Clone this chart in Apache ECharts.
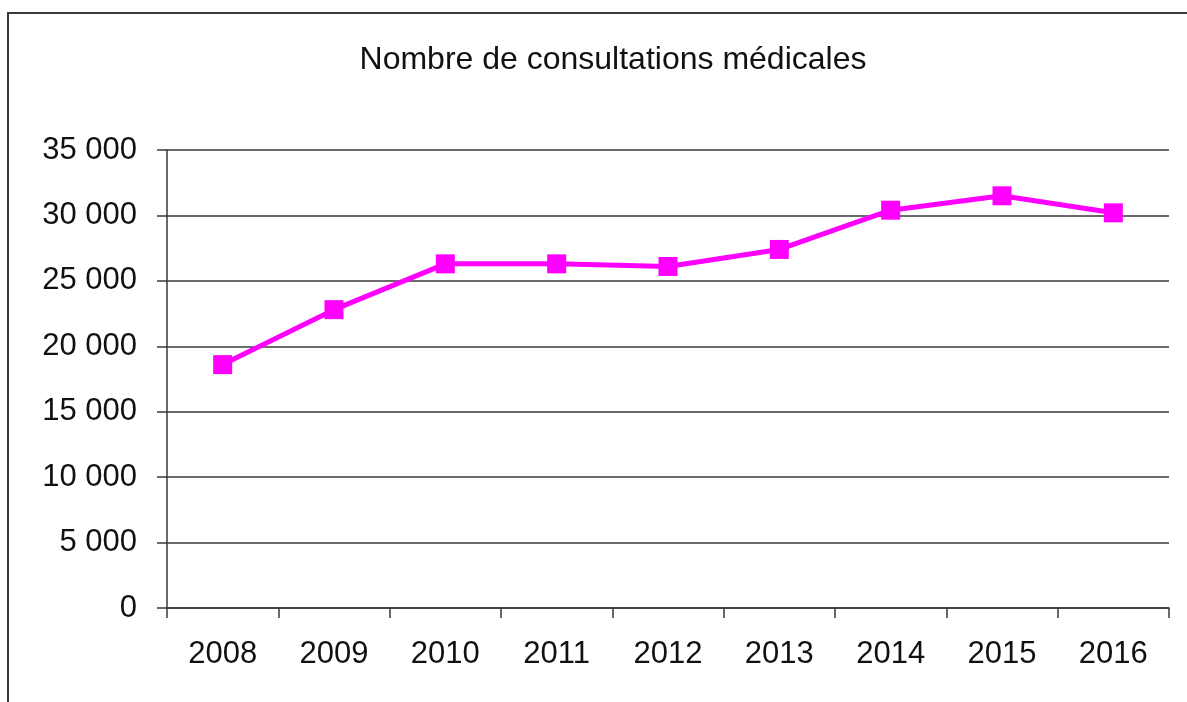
<!DOCTYPE html>
<html>
<head>
<meta charset="utf-8">
<script src="https://cdn.jsdelivr.net/npm/echarts@6/dist/echarts.min.js"></script>
<style>
  html, body { margin: 0; padding: 0; background: #fff; overflow: hidden; }
  #frame { position: absolute; left: 7px; top: 12px; width: 1300px; height: 800px;
           border-left: 2px solid #3a3a3a; border-top: 2px solid #3a3a3a; }
  #chart { position: absolute; left: 0; top: 0; width: 1187px; height: 702px; }
</style>
</head>
<body>
<div id="frame"></div>
<div id="chart"></div>
<script>
const titleText = 'Nombre de consultations médicales';
const years = ['2008', '2009', '2010', '2011', '2012', '2013', '2014', '2015', '2016'];
const consultations = [18600, 22800, 26300, 26300, 26100, 27400, 30400, 31500, 30200];

const fontFamily = 'Liberation Sans, Arial, sans-serif';
const axisColor = '#3a3a3a';

let myChart = echarts.init(document.getElementById('chart'), null, {renderer: 'canvas'});
let option = {
    animation: false,
    title: {
        text: titleText,
        left: 608,
        textAlign: 'center',
        top: 39,
        textStyle: { fontFamily: fontFamily, fontSize: 32, fontWeight: 'normal', color: '#111' }
    },
    grid: { left: 167, right: 18, top: 150, bottom: 94 },
    xAxis: {
        type: 'category',
        data: years,
        boundaryGap: true,
        axisLine: { lineStyle: { color: axisColor, width: 1.5 } },
        axisTick: { show: true, length: 10, lineStyle: { color: axisColor, width: 1.5 } },
        axisLabel: { margin: 31, fontFamily: fontFamily, fontSize: 31, color: '#111' }
    },
    yAxis: {
        type: 'value',
        min: 0,
        max: 35000,
        interval: 5000,
        axisLine: { show: true, lineStyle: { color: axisColor, width: 1.5 } },
        axisTick: { show: true, length: 10, lineStyle: { color: axisColor, width: 1.5 } },
        splitLine: { lineStyle: { color: axisColor, width: 1.5 } },
        axisLabel: {
            margin: 30,
            fontFamily: fontFamily,
            fontSize: 31,
            color: '#111',
            formatter: function (v) {
                return String(v).replace(/\B(?=(\d{3})+(?!\d))/g, ' ');
            }
        }
    },
    series: [{
        type: 'line',
        data: consultations,
        symbol: 'rect',
        symbolSize: 19,
        lineStyle: { color: '#ff00ff', width: 5 },
        itemStyle: { color: '#ff00ff', borderWidth: 0 }
    }]
};
myChart.setOption(option);
window.addEventListener('resize', function () {
    myChart.resize();
});
</script>
</body>
</html>
